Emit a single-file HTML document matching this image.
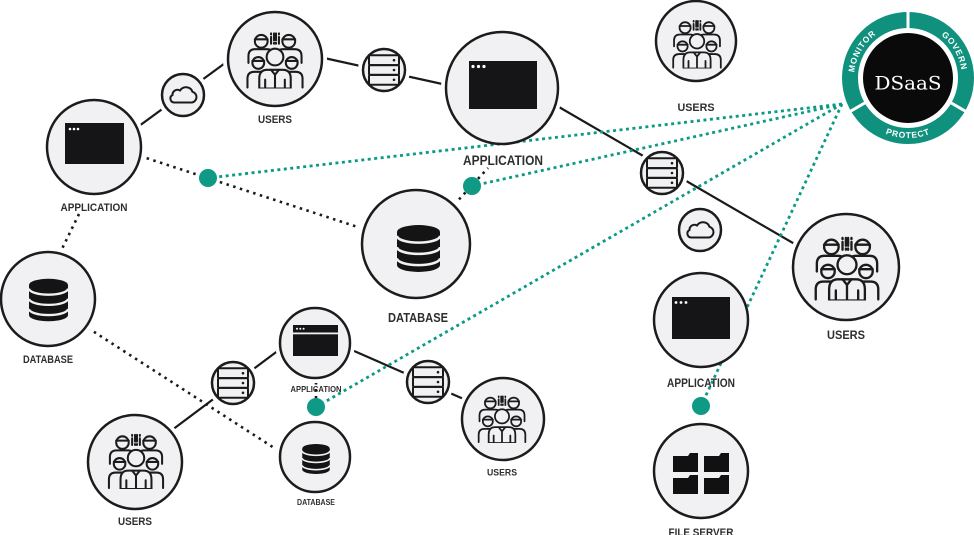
<!DOCTYPE html>
<html><head><meta charset="utf-8">
<style>
html,body{margin:0;padding:0;background:#fff;}
svg{display:block;}
.lb{font-family:"Liberation Sans",sans-serif;font-weight:bold;fill:#2e2e2e;}
</style></head><body>
<svg width="974" height="535" viewBox="0 0 974 535" xmlns="http://www.w3.org/2000/svg">
<defs>
<symbol id="users" viewBox="0 0 60 60">
<g fill="#f1f1f3" stroke="#1b1b1b" stroke-width="2.1" stroke-linecap="round" stroke-linejoin="round">
<path d="M3,34 V27 Q3,20 10,20 H22 Q27,20 28,25" fill="none"/>
<path d="M57,34 V27 Q57,20 50,20 H38 Q33,20 32,25" fill="none"/>
<circle cx="16" cy="12" r="6.5"/>
<path d="M9.5,10 H22.5" fill="none"/>
<circle cx="44" cy="12" r="6.5"/>
<path d="M37.5,10 H50.5" fill="none"/>
<path d="M26,4 v1 M26,7.5 v7 M29,4 v7 M29,13.5 v1 M31,4 v7 M31,13.5 v1 M34,4 v1 M34,7.5 v7" fill="none"/>
<path d="M2,59 V50 Q2,43 9,43 H18 Q22,43 22,47 V59"/>
<path d="M58,59 V50 Q58,43 51,43 H42 Q38,43 38,47 V59"/>
<circle cx="13" cy="34" r="6"/>
<path d="M7,32 H19" fill="none"/>
<circle cx="47" cy="34" r="6"/>
<path d="M41,32 H53" fill="none"/>
<path d="M14,60 V50 Q14,41 22,41 H38 Q46,41 46,50 V60 Z"/>
<circle cx="30" cy="28" r="8.5"/>
<path d="M26,41 L30,46 L34,41 M30,46 V59 M20,51 V59 M40,51 V59" fill="none"/>
</g>
</symbol>
<symbol id="db" viewBox="0 0 44 48">
<path d="M0,7 A22,7 0 0 1 44,7 V41 A22,7 0 0 1 0,41 Z" fill="#141414"/>
<g fill="none" stroke="#f1f1f3" stroke-width="2.6">
<path d="M0,11 A22,7 0 0 0 44,11"/>
<path d="M0,22.5 A22,7 0 0 0 44,22.5"/>
<path d="M0,34 A22,7 0 0 0 44,34"/>
</g>
</symbol>
<symbol id="srv" viewBox="-21 -21 42 42">
<g fill="none" stroke="#1a1a1a" stroke-width="2">
<rect x="-15" y="-14.7" width="30" height="9.8" rx="1.2"/>
<rect x="-15" y="-4.9" width="30" height="9.8" rx="1.2"/>
<rect x="-15" y="4.9" width="30" height="9.8" rx="1.2"/>
</g>
<g fill="#1a1a1a">
<circle cx="10" cy="-9.8" r="1.3"/>
<circle cx="10" cy="0" r="1.3"/>
<circle cx="10" cy="9.8" r="1.3"/>
</g>
</symbol>
<symbol id="cloud" viewBox="-21 -21 42 42">
<path d="M-9,7.5 H9 A5.5,5.5 0 0 0 9.5,-3.2 A7,7 0 0 0 -3,-4.5 A5,5 0 0 0 -10.5,0 A4,4 0 0 0 -9,7.5 Z" fill="none" stroke="#1a1a1a" stroke-width="2"/>
</symbol>
<path id="pMon" d="M861.2,105 A54,54 0 0 1 908,24"/>
<path id="pGov" d="M908,24 A54,54 0 0 1 954.8,105"/>
<path id="pPro" d="M856,108 A60,60 0 0 0 960,108"/>
</defs>

<!-- solid connectors -->
<g stroke="#1a1a1a" stroke-width="2.2" fill="none">
<line x1="135" y1="129" x2="232" y2="58"/>
<line x1="315" y1="56" x2="465" y2="89"/>
<line x1="540" y1="96" x2="805" y2="250"/>
<line x1="160" y1="439" x2="295" y2="338"/>
<line x1="345" y1="347" x2="475" y2="404"/>
</g>
<!-- black dotted -->
<g stroke="#1a1a1a" stroke-width="2.6" stroke-dasharray="2.5 4.5" fill="none">
<line x1="140" y1="156" x2="370" y2="231"/>
<line x1="79" y1="214" x2="60" y2="253"/>
<line x1="88" y1="328" x2="282" y2="453"/>
<line x1="440" y1="220" x2="488" y2="168"/>
<line x1="316" y1="375" x2="316" y2="425"/>
</g>

<!-- halos -->
<g fill="#fff">
<circle cx="275" cy="59" r="52"/>
<circle cx="183" cy="95" r="26"/>
<circle cx="384" cy="70" r="26"/>
<circle cx="502" cy="88" r="61"/>
<circle cx="696" cy="41" r="45"/>
<circle cx="94" cy="147" r="52"/>
<circle cx="48" cy="299" r="52"/>
<circle cx="416" cy="244" r="59"/>
<circle cx="662" cy="173" r="26"/>
<circle cx="700" cy="230" r="26"/>
<circle cx="846" cy="267" r="58"/>
<circle cx="701" cy="320" r="52"/>
<circle cx="701" cy="471" r="52"/>
<circle cx="315" cy="343" r="40"/>
<circle cx="315" cy="457" r="40"/>
<circle cx="233" cy="383" r="26"/>
<circle cx="428" cy="382" r="26"/>
<circle cx="135" cy="462" r="52"/>
<circle cx="503" cy="419" r="46"/>
</g>

<!-- teal dotted -->
<g stroke="#0d9a85" stroke-width="2.8" stroke-dasharray="3 3.5" fill="none">
<line x1="842" y1="104" x2="208" y2="178"/>
<line x1="842" y1="104" x2="472" y2="186"/>
<line x1="842" y1="104" x2="316" y2="407"/>
<line x1="842" y1="104" x2="701" y2="406"/>
</g>
<g fill="#0e9a84">
<circle cx="208" cy="178" r="9"/>
<circle cx="472" cy="186" r="9"/>
<circle cx="316" cy="407" r="9"/>
<circle cx="701" cy="406" r="9"/>
</g>

<!-- node circles -->
<g fill="#f1f1f3" stroke="#1c1c1c" stroke-width="2.5">
<circle cx="275" cy="59" r="47"/>
<circle cx="183" cy="95" r="21"/>
<circle cx="384" cy="70" r="21"/>
<circle cx="502" cy="88" r="56"/>
<circle cx="696" cy="41" r="40"/>
<circle cx="94" cy="147" r="47"/>
<circle cx="48" cy="299" r="47"/>
<circle cx="416" cy="244" r="54"/>
<circle cx="662" cy="173" r="21"/>
<circle cx="700" cy="230" r="21"/>
<circle cx="846" cy="267" r="53"/>
<circle cx="701" cy="320" r="47"/>
<circle cx="701" cy="471" r="47"/>
<circle cx="315" cy="343" r="35"/>
<circle cx="315" cy="457" r="35"/>
<circle cx="233" cy="383" r="21"/>
<circle cx="428" cy="382" r="21"/>
<circle cx="135" cy="462" r="47"/>
<circle cx="503" cy="419" r="41"/>
</g>

<!-- icons: users -->
<use href="#users" x="245.5" y="29.5" width="59" height="59"/>
<use href="#users" x="671.5" y="17.5" width="51" height="51"/>
<use href="#users" x="813.5" y="233.5" width="67" height="67"/>
<use href="#users" x="107" y="431" width="58" height="58"/>
<use href="#users" x="477" y="393" width="50" height="50"/>

<!-- servers & clouds -->
<use href="#srv" x="363" y="49" width="42" height="42"/>
<use href="#srv" x="641" y="152" width="42" height="42"/>
<use href="#srv" x="212" y="362" width="42" height="42"/>
<use href="#srv" x="407" y="361" width="42" height="42"/>
<use href="#cloud" x="162" y="74" width="42" height="42"/>
<use href="#cloud" x="679" y="209" width="42" height="42"/>

<!-- databases -->
<use href="#db" x="29" y="278" width="39" height="44"/>
<use href="#db" x="397" y="225" width="43" height="47"/>
<use href="#db" x="302" y="444" width="28" height="30"/>

<!-- windows -->
<rect x="469" y="61" width="68" height="48" fill="#151518"/>
<g fill="#fff"><circle cx="473" cy="66.5" r="1.6"/><circle cx="478.5" cy="66.5" r="1.6"/><circle cx="484" cy="66.5" r="1.6"/></g>
<rect x="65" y="123" width="59" height="41" fill="#151518"/>
<g fill="#fff"><circle cx="70" cy="129" r="1.3"/><circle cx="74" cy="129" r="1.3"/><circle cx="78" cy="129" r="1.3"/></g>
<rect x="672" y="297" width="58" height="42" fill="#151518"/>
<g fill="#fff"><circle cx="676" cy="302.5" r="1.4"/><circle cx="681" cy="302.5" r="1.4"/><circle cx="686" cy="302.5" r="1.4"/></g>
<rect x="293" y="325" width="45" height="31" fill="#151518"/>
<rect x="293" y="332.5" width="45" height="1.8" fill="#f1f1f3"/>
<g fill="#fff"><circle cx="297" cy="328.8" r="1"/><circle cx="300.3" cy="328.8" r="1"/><circle cx="303.6" cy="328.8" r="1"/></g>

<!-- folders -->
<g fill="#111">
<path d="M673,456 h15 l2,-3 h8 v19 h-25 z"/>
<path d="M704,456 h15 l2,-3 h8 v19 h-25 z"/>
<path d="M673,478 h15 l2,-3 h8 v19 h-25 z"/>
<path d="M704,478 h15 l2,-3 h8 v19 h-25 z"/>
</g>

<!-- labels -->
<g class="lb" text-anchor="middle">
<text x="275" y="123" font-size="11" textLength="34" lengthAdjust="spacingAndGlyphs">USERS</text>
<text x="503" y="165" font-size="13.5" textLength="80" lengthAdjust="spacingAndGlyphs">APPLICATION</text>
<text x="696" y="111" font-size="11" textLength="37" lengthAdjust="spacingAndGlyphs">USERS</text>
<text x="94" y="211" font-size="11" textLength="67" lengthAdjust="spacingAndGlyphs">APPLICATION</text>
<text x="48" y="363" font-size="11" textLength="50" lengthAdjust="spacingAndGlyphs">DATABASE</text>
<text x="418" y="322" font-size="12.5" textLength="60" lengthAdjust="spacingAndGlyphs">DATABASE</text>
<text x="846" y="339" font-size="11.5" textLength="38" lengthAdjust="spacingAndGlyphs">USERS</text>
<text x="701" y="387" font-size="11.5" textLength="68" lengthAdjust="spacingAndGlyphs">APPLICATION</text>
<text x="701" y="536" font-size="11" textLength="65" lengthAdjust="spacingAndGlyphs">FILE SERVER</text>
<text x="316" y="392" font-size="8.5" textLength="51" lengthAdjust="spacingAndGlyphs">APPLICATION</text>
<text x="316" y="505" font-size="8.5" textLength="38" lengthAdjust="spacingAndGlyphs">DATABASE</text>
<text x="135" y="525" font-size="11" textLength="34" lengthAdjust="spacingAndGlyphs">USERS</text>
<text x="502" y="475.5" font-size="9.5" textLength="30" lengthAdjust="spacingAndGlyphs">USERS</text>
</g>

<!-- DSaaS badge -->
<circle cx="908" cy="78" r="68" fill="#fff"/>
<circle cx="908" cy="78" r="58" fill="none" stroke="#10917e" stroke-width="16"/>
<circle cx="908" cy="78" r="45" fill="#0a0a0a"/>
<g stroke="#fff" stroke-width="3">
<line x1="908" y1="29" x2="908" y2="9"/>
<line x1="865.6" y1="102.5" x2="848" y2="112.7"/>
<line x1="950.4" y1="102.5" x2="968" y2="112.7"/>
</g>
<g font-family="Liberation Sans, sans-serif" font-size="8.5" font-weight="bold" fill="#fff" letter-spacing="0.8">
<text><textPath href="#pMon" startOffset="50%" text-anchor="middle">MONITOR</textPath></text>
<text><textPath href="#pGov" startOffset="50%" text-anchor="middle">GOVERN</textPath></text>
<text><textPath href="#pPro" startOffset="50%" text-anchor="middle">PROTECT</textPath></text>
</g>
<text x="908" y="89.5" text-anchor="middle" font-family="DejaVu Serif, Liberation Serif, serif" font-size="19" fill="#fff" textLength="67" lengthAdjust="spacingAndGlyphs">DSaaS</text>
</svg>
</body></html>
